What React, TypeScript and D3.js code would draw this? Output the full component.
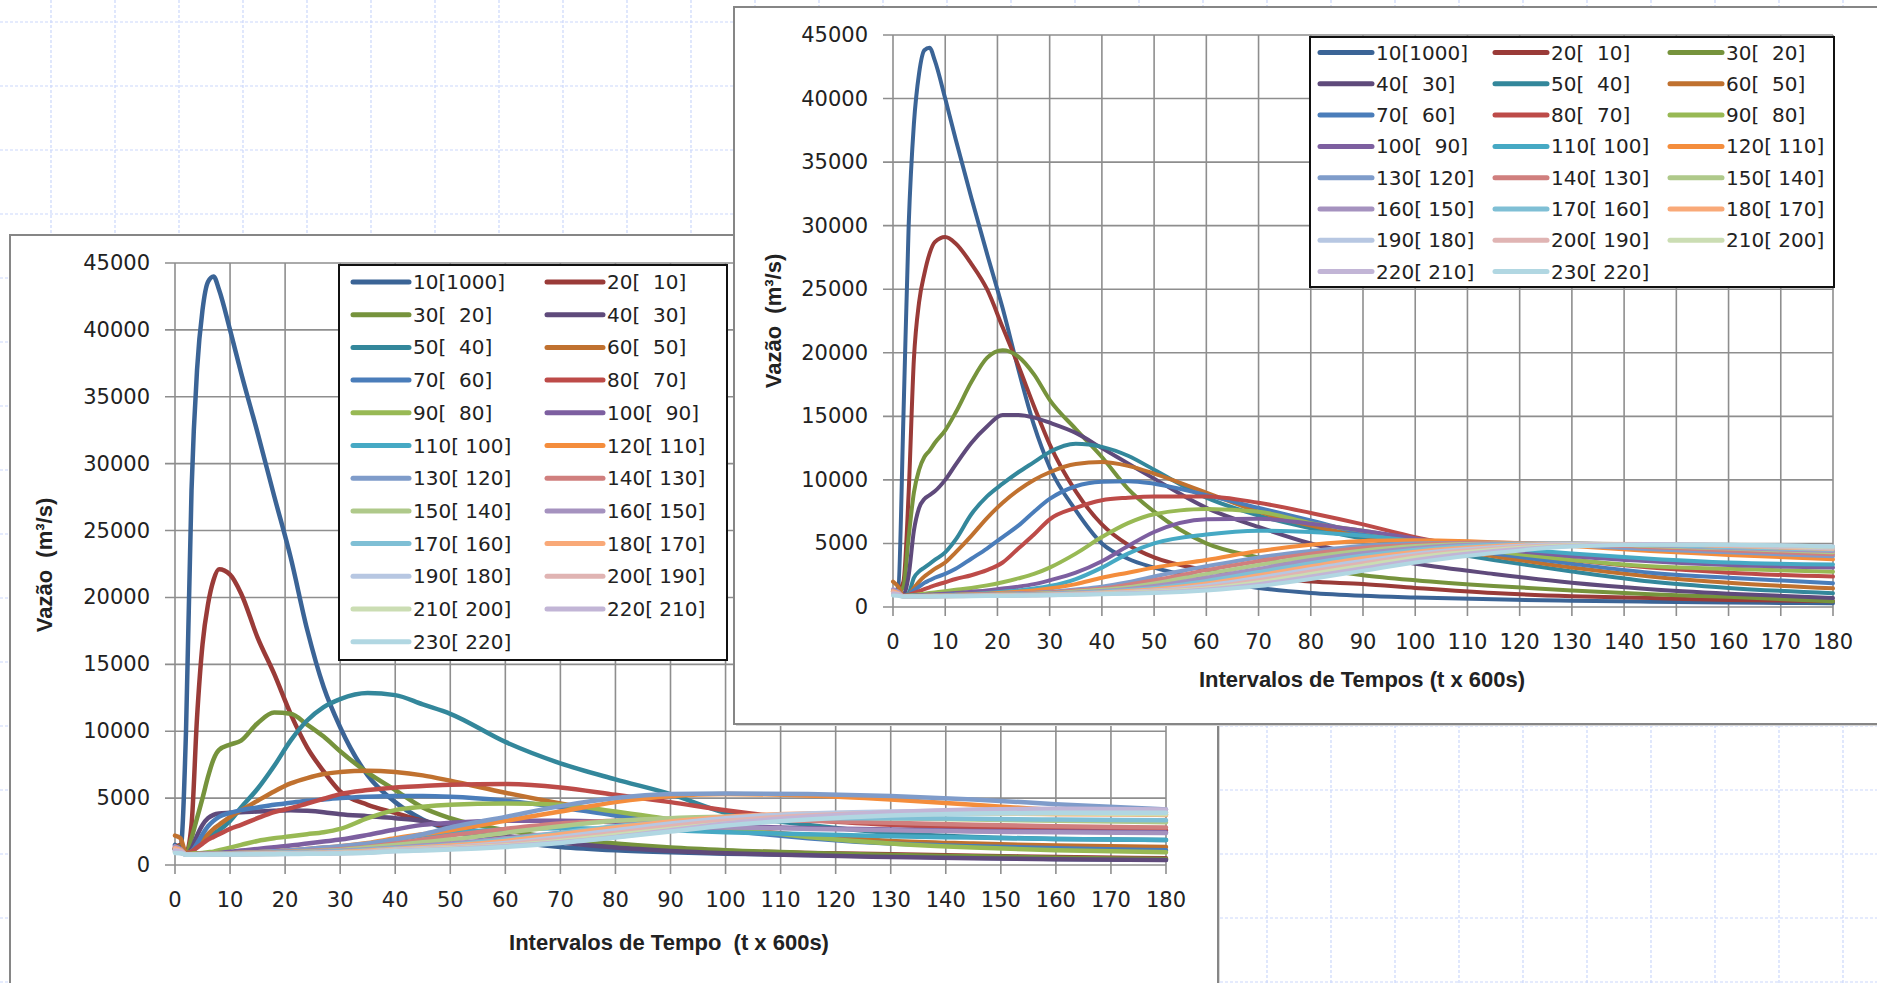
import * as d3 from 'd3';

// sample times (intervals of 600 s) at which the curves were read
const timeSteps = [0, 1, 2, 3, 4, 5, 6, 7, 8, 10, 12, 15, 18, 21, 24, 27, 30, 35, 40, 45, 50, 60, 70, 80, 90, 100, 115, 130, 145, 160, 180];

const sections = [10, 20, 30, 40, 50, 60, 70, 80, 90, 100, 110, 120, 130, 140, 150, 160, 170, 180, 190, 200, 210, 220, 230];
const upstream = [1000, 10, 20, 30, 40, 50, 60, 70, 80, 90, 100, 110, 120, 130, 140, 150, 160, 170, 180, 190, 200, 210, 220];

const seriesColors = [
  '#3B6496', '#9A3B38', '#76933C', '#5F4A7B', '#33879B', '#C0712F',
  '#4A7DBA', '#BD4B48', '#98B954', '#7D5FA0', '#46A9C4', '#F48D3C',
  '#7F9CCA', '#D07F7E', '#AFC98A', '#A592BF', '#7FBFD5', '#F9A978',
  '#B7C7E2', '#E0B4B3', '#CBDDB3', '#C2B5D6', '#B1D7E2'
];

const yTickValues = [0, 5000, 10000, 15000, 20000, 25000, 30000, 35000, 40000, 45000];
const xTickValues = [0, 10, 20, 30, 40, 50, 60, 70, 80, 90, 100, 110, 120, 130, 140, 150, 160, 170, 180];

// left (back) chart: discharge per section, m3/s
const leftValues = [
  [1500, 1300, 10000, 28000, 37000, 41500, 43600, 44000, 43000, 40000, 36800, 32300, 27600, 23000, 17600, 13300, 10300, 6700, 4700, 3400, 2600, 1800, 1350, 1100, 950, 850, 750, 650, 550, 450, 400],
  [1300, 1500, 900, 3000, 11000, 16500, 19500, 21300, 22100, 21700, 20300, 17000, 14300, 11300, 8800, 7000, 5500, 4500, 3900, 3300, 2800, 2100, 1700, 1400, 1200, 1050, 900, 800, 700, 600, 500],
  [1200, 1400, 800, 2000, 3500, 5000, 6600, 7900, 8600, 9000, 9300, 10600, 11400, 11300, 10500, 9600, 8500, 6900, 5600, 4300, 3500, 2600, 2000, 1600, 1300, 1100, 900, 750, 650, 550, 450],
  [1200, 1300, 800, 1200, 2200, 3000, 3500, 3750, 3850, 3900, 3950, 4000, 4050, 4100, 4050, 3950, 3800, 3650, 3500, 3300, 2900, 2200, 1700, 1300, 1050, 880, 720, 600, 500, 430, 380],
  [1200, 1100, 800, 1000, 1400, 1800, 2100, 2350, 2600, 3300, 4300, 5700, 7400, 9300, 10800, 11800, 12400, 12850, 12700, 12000, 11300, 9200, 7600, 6400, 5300, 3900, 3000, 2400, 2100, 1950, 1870],
  [2200, 2000, 900, 1000, 1400, 1900, 2300, 2700, 3000, 3600, 4100, 4800, 5500, 6100, 6500, 6800, 6950, 7050, 6950, 6700, 6300, 5400, 4600, 3900, 3300, 2800, 2200, 1800, 1600, 1450, 1350],
  [1200, 1100, 800, 1000, 1600, 2300, 2900, 3300, 3600, 3900, 4100, 4300, 4500, 4650, 4800, 4900, 5000, 5100, 5150, 5150, 5100, 4800, 4300, 3700, 3100, 2600, 2000, 1600, 1400, 1250, 1100],
  [1200, 1000, 800, 1000, 1300, 1600, 1900, 2100, 2300, 2700, 3000, 3500, 3950, 4250, 4600, 4950, 5300, 5600, 5800, 5900, 6000, 6050, 5800, 5250, 4700, 4100, 3400, 3000, 2800, 2700, 2600],
  [1200, 1000, 800, 850, 880, 900, 950, 1000, 1100, 1300, 1500, 1800, 2000, 2150, 2300, 2450, 2700, 3500, 4100, 4350, 4500, 4600, 4500, 4000, 3400, 2800, 2100, 1600, 1300, 1100, 950],
  [1200, 1000, 780, 800, 820, 840, 860, 880, 900, 1000, 1080, 1200, 1330, 1450, 1600, 1750, 1900, 2250, 2650, 3000, 3150, 3300, 3300, 3200, 3050, 2900, 2750, 2650, 2550, 2500, 2450],
  [1200, 1000, 780, 790, 800, 810, 820, 830, 840, 870, 900, 950, 1010, 1080, 1160, 1250, 1350, 1600, 1900, 2200, 2400, 2650, 2750, 2700, 2600, 2450, 2300, 2150, 2050, 1950, 1870],
  [1200, 1000, 790, 800, 810, 820, 830, 840, 850, 880, 910, 960, 1020, 1100, 1200, 1300, 1400, 1650, 2000, 2300, 2600, 3300, 4000, 4700, 5150, 5300, 5200, 4900, 4500, 4100, 3740],
  [1100, 1000, 800, 800, 810, 820, 830, 840, 850, 870, 900, 950, 1020, 1100, 1200, 1300, 1400, 1600, 1900, 2300, 2800, 3600, 4400, 5000, 5300, 5350, 5300, 5150, 4900, 4550, 4150],
  [1300, 1100, 800, 800, 810, 820, 830, 840, 850, 870, 890, 920, 960, 1000, 1050, 1110, 1180, 1350, 1600, 1900, 2200, 2700, 3100, 3300, 3400, 3400, 3300, 3150, 3000, 2900, 2800],
  [1000, 950, 790, 790, 800, 810, 820, 830, 840, 860, 880, 900, 930, 970, 1010, 1060, 1120, 1300, 1500, 1700, 1900, 2400, 2900, 3300, 3500, 3600, 3600, 3500, 3400, 3300, 3200],
  [1400, 1200, 800, 790, 800, 810, 815, 820, 830, 845, 860, 880, 910, 940, 980, 1020, 1070, 1180, 1300, 1450, 1600, 2000, 2400, 2700, 2800, 2800, 2700, 2600, 2500, 2450, 2400],
  [1100, 1000, 790, 785, 790, 795, 800, 805, 810, 825, 840, 860, 885, 910, 940, 975, 1010, 1120, 1250, 1370, 1500, 1900, 2400, 2900, 3200, 3400, 3500, 3500, 3450, 3400, 3350],
  [1250, 1100, 800, 785, 790, 792, 795, 800, 805, 815, 825, 840, 860, 880, 905, 930, 960, 1060, 1200, 1320, 1450, 1800, 2300, 2800, 3250, 3600, 3850, 3900, 3850, 3800, 3750],
  [950, 900, 780, 780, 782, 785, 788, 790, 795, 805, 815, 830, 845, 860, 880, 900, 925, 1000, 1150, 1250, 1350, 1650, 2100, 2600, 3100, 3500, 3850, 4000, 4050, 4000, 3950],
  [1150, 1050, 790, 780, 782, 784, 786, 788, 792, 800, 810, 822, 835, 850, 865, 885, 905, 970, 1100, 1200, 1300, 1550, 1950, 2400, 2900, 3300, 3700, 3900, 4000, 4000, 3950],
  [1000, 950, 780, 775, 778, 780, 782, 785, 788, 795, 805, 815, 828, 840, 855, 872, 890, 950, 1080, 1160, 1250, 1450, 1800, 2250, 2700, 3100, 3500, 3750, 3850, 3850, 3800],
  [1050, 1000, 785, 775, 776, 778, 780, 782, 785, 792, 800, 810, 822, 834, 848, 862, 880, 930, 1050, 1120, 1200, 1400, 1700, 2100, 2600, 3100, 3600, 3950, 4150, 4200, 4150],
  [900, 880, 770, 770, 772, 774, 776, 778, 780, 786, 793, 802, 812, 824, 836, 850, 865, 910, 1030, 1090, 1150, 1350, 1650, 2050, 2500, 2950, 3400, 3700, 3850, 3900, 3900]
];

// right (front) chart
const rightValues = [
  [1200, 1500, 15000, 30000, 38000, 42000, 43800, 44000, 43000, 40000, 36800, 32200, 27800, 23500, 18700, 14300, 11000, 7600, 5000, 3800, 3100, 2200, 1500, 1100, 880, 750, 600, 500, 420, 350, 300],
  [1200, 1300, 2000, 9000, 19500, 24000, 26200, 27800, 28700, 29100, 28600, 27000, 25000, 22000, 19000, 15800, 12800, 9100, 6500, 4900, 3900, 2900, 2400, 2000, 1800, 1500, 1100, 850, 700, 560, 450],
  [1200, 1200, 1600, 5500, 9000, 10800, 11800, 12300, 12900, 13900, 15300, 17700, 19600, 20200, 19700, 18300, 16300, 14000, 11800, 9300, 7500, 5000, 3900, 3100, 2500, 2100, 1650, 1300, 1000, 800, 450],
  [1200, 1100, 1000, 2500, 6000, 7800, 8500, 8800, 9100, 10000, 11200, 12900, 14200, 15100, 15100, 14900, 14500, 13700, 12500, 11300, 10100, 7800, 6300, 5000, 4100, 3400, 2600, 1900, 1400, 1050, 700],
  [1200, 1100, 900, 1100, 2300, 2800, 3100, 3400, 3700, 4300, 5300, 7300, 8700, 9700, 10600, 11400, 12200, 12850, 12600, 11900, 10800, 8600, 7200, 6200, 5400, 4700, 3700, 2800, 2000, 1500, 1080],
  [2000, 1600, 900, 1000, 1500, 2000, 2400, 2700, 3000, 3500, 4300, 5600, 7000, 8200, 9200, 10000, 10600, 11250, 11400, 11100, 10500, 9000, 7500, 6400, 5600, 5000, 4000, 3100, 2400, 1900, 1470],
  [1200, 1100, 900, 1000, 1300, 1600, 1900, 2100, 2300, 2600, 3000, 3800, 4600, 5500, 6400, 7500, 8500, 9500, 9850, 9900, 9700, 8800, 7800, 6800, 5800, 5100, 4200, 3400, 2700, 2300, 1870],
  [1200, 1000, 900, 950, 1100, 1250, 1400, 1550, 1700, 1950, 2200, 2500, 2900, 3500, 4600, 5700, 6900, 7800, 8400, 8600, 8700, 8700, 8200, 7400, 6500, 5500, 4500, 3700, 3100, 2700, 2390],
  [1200, 1000, 850, 900, 950, 1000, 1050, 1100, 1150, 1250, 1350, 1500, 1700, 1950, 2250, 2600, 3100, 4200, 5500, 6600, 7300, 7700, 7500, 6600, 6000, 5300, 4400, 3700, 3200, 3000, 2780],
  [1200, 1000, 850, 880, 900, 920, 950, 980, 1000, 1050, 1100, 1200, 1300, 1450, 1600, 1800, 2100, 2700, 3600, 4800, 5900, 6900, 6950, 6550, 6000, 5400, 4600, 4000, 3600, 3300, 3100],
  [1200, 1000, 850, 870, 880, 890, 900, 910, 920, 950, 980, 1030, 1100, 1200, 1300, 1450, 1650, 2200, 3100, 4200, 5000, 5700, 6000, 5900, 5600, 5200, 4700, 4200, 3800, 3500, 3350],
  [1200, 1000, 850, 860, 870, 880, 890, 900, 910, 930, 960, 1000, 1050, 1120, 1200, 1300, 1450, 1800, 2300, 2700, 3100, 3700, 4400, 4900, 5200, 5250, 5100, 4800, 4400, 4100, 3750],
  [1100, 1000, 850, 850, 860, 870, 880, 890, 900, 920, 940, 970, 1000, 1040, 1080, 1130, 1200, 1380, 1600, 1950, 2400, 3200, 3900, 4400, 4800, 5000, 5050, 4850, 4550, 4300, 4000],
  [1300, 1100, 850, 850, 855, 860, 870, 880, 890, 910, 930, 950, 980, 1010, 1050, 1100, 1150, 1300, 1450, 1750, 2100, 2900, 3600, 4200, 4650, 4900, 5050, 4950, 4700, 4450, 4150],
  [1000, 950, 840, 840, 845, 850, 860, 870, 880, 900, 910, 930, 950, 980, 1010, 1050, 1100, 1220, 1350, 1550, 1850, 2600, 3300, 3950, 4450, 4800, 5000, 5000, 4800, 4600, 4300],
  [1400, 1200, 850, 840, 845, 850, 855, 860, 870, 880, 890, 910, 930, 950, 980, 1010, 1050, 1150, 1250, 1420, 1650, 2300, 3000, 3700, 4250, 4650, 4950, 5000, 4850, 4650, 4400],
  [1100, 1000, 840, 835, 840, 845, 850, 855, 860, 870, 880, 900, 920, 940, 960, 990, 1020, 1100, 1200, 1330, 1500, 2050, 2750, 3450, 4050, 4500, 4900, 5000, 4900, 4700, 4500],
  [1250, 1100, 850, 835, 840, 842, 845, 850, 855, 865, 875, 890, 905, 920, 940, 965, 990, 1060, 1150, 1260, 1400, 1850, 2500, 3200, 3850, 4350, 4800, 4980, 4950, 4800, 4550],
  [950, 900, 830, 830, 832, 835, 838, 840, 845, 855, 865, 880, 895, 910, 925, 945, 970, 1030, 1100, 1190, 1300, 1700, 2300, 3000, 3650, 4200, 4700, 4950, 4950, 4850, 4600],
  [1150, 1050, 840, 830, 832, 834, 836, 838, 842, 850, 860, 872, 885, 900, 915, 935, 955, 1010, 1080, 1160, 1250, 1550, 2100, 2800, 3450, 4050, 4600, 4900, 4950, 4850, 4650],
  [1000, 950, 830, 825, 828, 830, 832, 835, 838, 845, 855, 865, 878, 890, 905, 922, 940, 990, 1050, 1120, 1200, 1450, 1950, 2600, 3250, 3900, 4500, 4850, 4950, 4900, 4700],
  [1050, 1000, 835, 825, 826, 828, 830, 832, 835, 842, 850, 860, 872, 884, 898, 912, 930, 975, 1030, 1090, 1150, 1380, 1800, 2400, 3050, 3700, 4400, 4800, 4950, 4900, 4750],
  [900, 880, 820, 820, 822, 824, 826, 828, 830, 836, 843, 852, 862, 874, 886, 900, 915, 955, 1000, 1050, 1100, 1300, 1650, 2200, 2850, 3500, 4250, 4750, 4900, 4900, 4750]
];

const legendLabels = sections.map((s, i) => `${s}[${String(upstream[i]).padStart(4, ' ')}]`);

const W = 1877;
const H = 983;
const gridColor = '#8e8e8e';
const textFont = '"DejaVu Sans", sans-serif';
const titleFont = '"Liberation Sans", Arial, sans-serif';

interface ChartProps {
  frame: { x: number; y: number; w: number; h: number };
  plot: { left: number; right: number; top: number; bottom: number };
  values: number[][];
  lineWidth: number;
  legend: { x: number; y: number; w: number; h: number; cols: number; colX: number[]; lineLen: number; rowY0: number; rowStep: number };
  xTitle: string;
  xTitlePos: [number, number];
  yTitlePos: [number, number];
}

function Chart({ frame, plot, values, lineWidth, legend, xTitle, xTitlePos, yTitlePos }: ChartProps) {
  const x = d3.scaleLinear().domain([0, 180]).range([plot.left, plot.right]);
  const y = d3.scaleLinear().domain([0, 45000]).range([plot.bottom, plot.top]);

  const line = d3.line<number>()
    .x((_, i) => x(timeSteps[i]))
    .y(d => y(d))
    .curve(d3.curveMonotoneX);

  return (
    <g>
      {/* chart frame */}
      <rect x={frame.x + 2} y={frame.y + 2} width={frame.w} height={frame.h} fill="#d6d6d6" />
      <rect x={frame.x} y={frame.y} width={frame.w} height={frame.h} fill="#fff" stroke="#868686" strokeWidth={2} />

      {/* gridlines */}
      {yTickValues.map(v => (
        <line key={'h' + v} x1={plot.left - 10} x2={plot.right} y1={y(v)} y2={y(v)} stroke={gridColor} strokeWidth={1.6} />
      ))}
      {xTickValues.map(v => (
        <line key={'v' + v} x1={x(v)} x2={x(v)} y1={plot.top} y2={plot.bottom + 9} stroke={gridColor} strokeWidth={1.6} />
      ))}

      {/* tick labels */}
      {yTickValues.map(v => (
        <text key={'yl' + v} x={plot.left - 25} y={y(v)} textAnchor="end" dominantBaseline="central"
          fontFamily={textFont} fontSize={21} fill="#222">{v}</text>
      ))}
      {xTickValues.map(v => (
        <text key={'xl' + v} x={x(v)} y={plot.bottom + 35} textAnchor="middle" dominantBaseline="central"
          fontFamily={textFont} fontSize={21} fill="#222">{v}</text>
      ))}

      {/* series */}
      {values.map((s, i) => (
        <path key={'s' + i} d={line(s) || ''} fill="none" stroke={seriesColors[i]} strokeWidth={lineWidth}
          strokeLinejoin="round" strokeLinecap="round" />
      ))}

      {/* axis titles */}
      <text x={xTitlePos[0]} y={xTitlePos[1]} textAnchor="middle" dominantBaseline="central"
        fontFamily={titleFont} fontWeight="bold" fontSize={22} fill="#222" style={{ whiteSpace: 'pre' }}>{xTitle}</text>
      <text transform={`translate(${yTitlePos[0]},${yTitlePos[1]}) rotate(-90)`} textAnchor="middle" dominantBaseline="central"
        fontFamily={titleFont} fontWeight="bold" fontSize={22} fill="#222" style={{ whiteSpace: 'pre' }}>{'Vazão  (m³/s)'}</text>

      {/* legend */}
      <rect x={legend.x} y={legend.y} width={legend.w} height={legend.h} fill="#fff" stroke="#111" strokeWidth={2} />
      {legendLabels.map((lab, i) => {
        const cx = legend.colX[i % legend.cols];
        const cy = legend.rowY0 + Math.floor(i / legend.cols) * legend.rowStep;
        return (
          <g key={'lg' + i}>
            <line x1={cx} x2={cx + legend.lineLen} y1={cy} y2={cy} stroke={seriesColors[i]} strokeWidth={5} strokeLinecap="round" />
            <text x={cx + legend.lineLen + 4} y={cy} dominantBaseline="central" fontFamily={textFont} fontSize={20}
              fill="#222" style={{ whiteSpace: 'pre' }}>{lab}</text>
          </g>
        );
      })}
    </g>
  );
}

export default function App() {
  const bgCols = d3.range(51, W, 64);
  const bgRows = d3.range(22, H, 64);

  return (
    <svg width={W} height={H} style={{ position: 'absolute', left: 0, top: 0, display: 'block', background: '#fff' }}>
      <rect x={0} y={0} width={W} height={H} fill="#fff" />
      {/* worksheet gridlines */}
      {bgCols.map(c => (
        <line key={'bc' + c} x1={c} x2={c} y1={0} y2={H} stroke="#cbd8fb" strokeWidth={1.2} strokeDasharray="3 2" />
      ))}
      {bgRows.map(r => (
        <line key={'br' + r} x1={0} x2={W} y1={r} y2={r} stroke="#cbd8fb" strokeWidth={1.2} strokeDasharray="3 2" />
      ))}

      <Chart
        frame={{ x: 10, y: 235, w: 1208, h: 800 }}
        plot={{ left: 175, right: 1166, top: 263, bottom: 865 }}
        values={leftValues}
        lineWidth={4.5}
        legend={{ x: 339, y: 265, w: 388, h: 395, cols: 2, colX: [353, 547], lineLen: 56, rowY0: 282, rowStep: 32.7 }}
        xTitle={'Intervalos de Tempo  (t x 600s)'}
        xTitlePos={[669, 942]}
        yTitlePos={[44, 565]}
      />
      <Chart
        frame={{ x: 734, y: 7, w: 1200, h: 717 }}
        plot={{ left: 893, right: 1833, top: 35, bottom: 607 }}
        values={rightValues}
        lineWidth={4}
        legend={{ x: 1310, y: 37, w: 524, h: 250, cols: 3, colX: [1320, 1495, 1670], lineLen: 52, rowY0: 52.5, rowStep: 31.3 }}
        xTitle={'Intervalos de Tempos (t x 600s)'}
        xTitlePos={[1362, 679]}
        yTitlePos={[773, 321]}
      />
    </svg>
  );
}
